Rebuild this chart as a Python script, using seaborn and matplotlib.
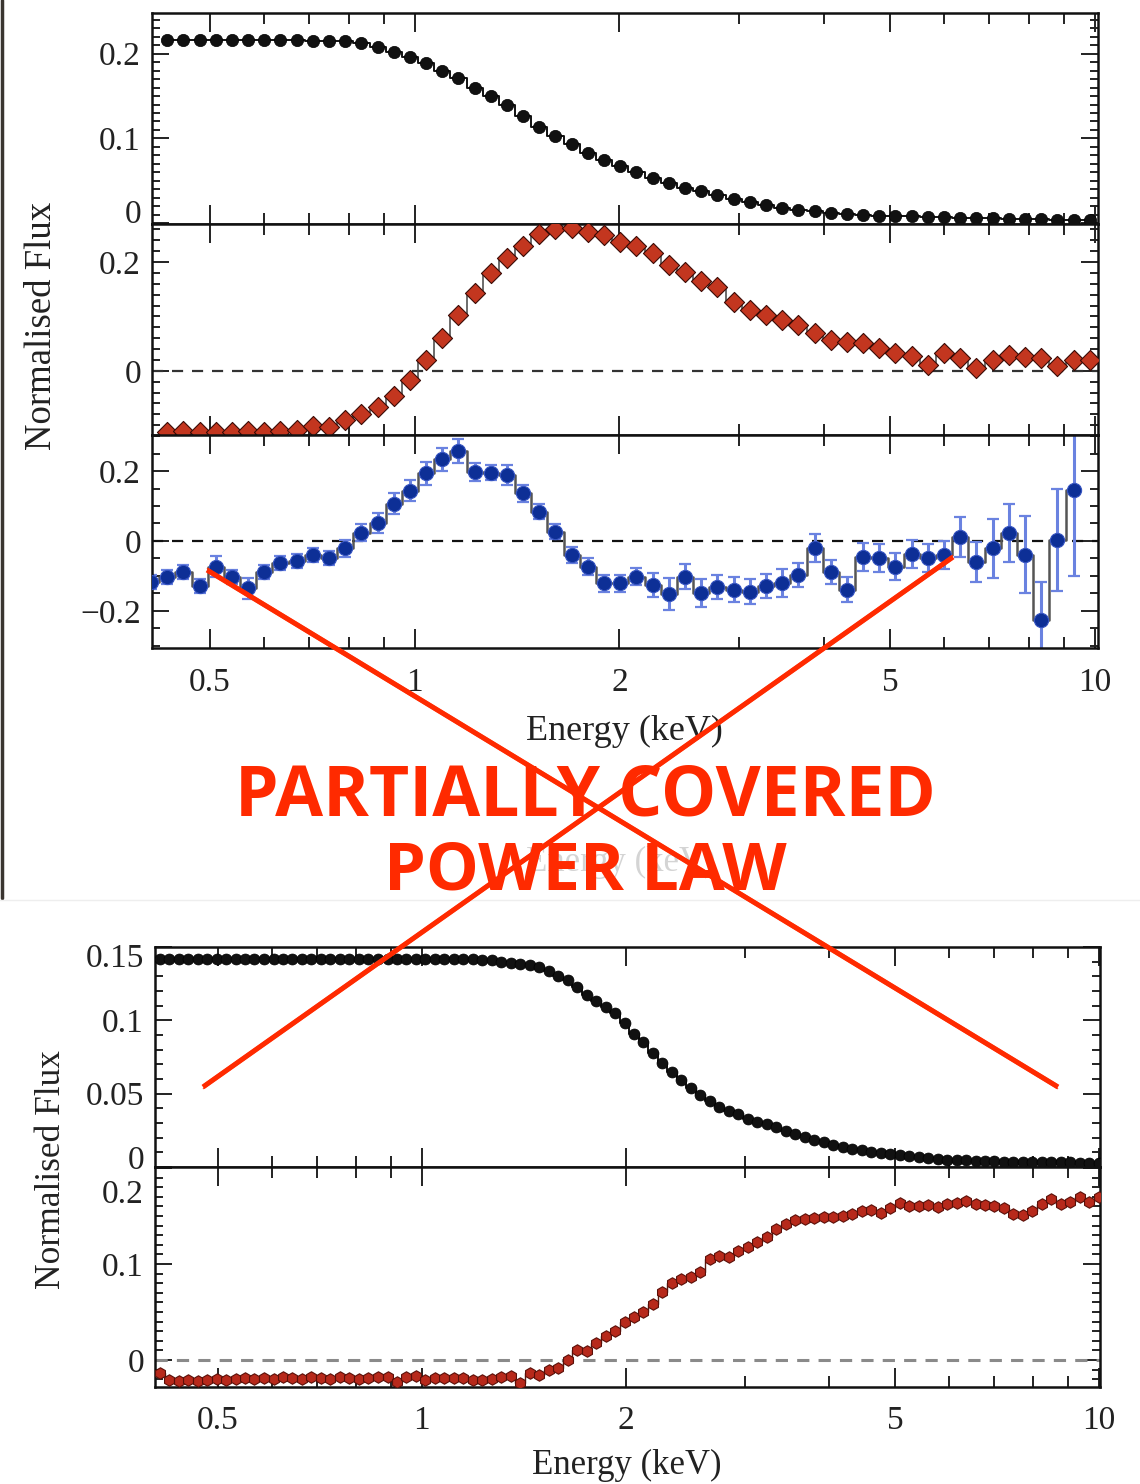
import matplotlib
matplotlib.use("Agg")
import matplotlib.pyplot as plt
import seaborn as sns
import pandas as pd
from matplotlib.ticker import FixedLocator, FixedFormatter, NullFormatter, MultipleLocator
from matplotlib.lines import Line2D

# ---------------- data ----------------
energy_top = [0.433, 0.457, 0.483, 0.510, 0.538, 0.569, 0.601, 0.635, 0.671, 0.708,
              0.748, 0.790, 0.835, 0.882, 0.932, 0.984, 1.039, 1.098, 1.160, 1.225,
              1.294, 1.367, 1.444, 1.525, 1.611, 1.702, 1.798, 1.899, 2.006, 2.119,
              2.239, 2.365, 2.498, 2.639, 2.788, 2.944, 3.110, 3.286, 3.471, 3.666,
              3.873, 4.091, 4.321, 4.565, 4.822, 5.093, 5.380, 5.683, 6.003, 6.342,
              6.699, 7.076, 7.475, 7.896, 8.341, 8.811, 9.307, 9.831]

flux_top_total = [0.216, 0.216, 0.216, 0.216, 0.216, 0.216, 0.216, 0.216, 0.216, 0.215,
                  0.215, 0.215, 0.213, 0.208, 0.202, 0.196, 0.189, 0.180, 0.171, 0.160,
                  0.150, 0.139, 0.127, 0.114, 0.103, 0.093, 0.083, 0.075, 0.067, 0.060,
                  0.053, 0.047, 0.042, 0.038, 0.033, 0.029, 0.025, 0.021, 0.018, 0.016,
                  0.014, 0.012, 0.011, 0.010, 0.009, 0.008, 0.008, 0.007, 0.007, 0.006,
                  0.006, 0.006, 0.005, 0.005, 0.005, 0.004, 0.004, 0.004]

flux_top_comp = [-0.112, -0.110, -0.112, -0.112, -0.113, -0.110, -0.112, -0.110, -0.108, -0.102,
                 -0.104, -0.091, -0.080, -0.067, -0.046, -0.017, 0.020, 0.060, 0.103, 0.143,
                 0.180, 0.208, 0.230, 0.252, 0.261, 0.263, 0.255, 0.250, 0.237, 0.230,
                 0.217, 0.195, 0.182, 0.165, 0.154, 0.127, 0.112, 0.103, 0.093, 0.084,
                 0.069, 0.057, 0.053, 0.051, 0.042, 0.032, 0.027, 0.010, 0.032, 0.023,
                 0.005, 0.020, 0.030, 0.025, 0.023, 0.009, 0.020, 0.020]

energy_resid = [0.410] + energy_top[:57]
flux_resid = [-0.116, -0.102, -0.088, -0.129, -0.073, -0.102, -0.135, -0.088, -0.064, -0.056,
              -0.040, -0.050, -0.021, 0.024, 0.052, 0.107, 0.143, 0.193, 0.233, 0.258,
              0.197, 0.195, 0.189, 0.136, 0.084, 0.027, -0.040, -0.073, -0.121, -0.121,
              -0.102, -0.126, -0.152, -0.102, -0.148, -0.131, -0.139, -0.145, -0.129, -0.121,
              -0.097, -0.021, -0.088, -0.139, -0.045, -0.050, -0.073, -0.037, -0.050, -0.040,
              0.012, -0.059, -0.021, 0.022, -0.040, -0.226, 0.003, 0.146]
err_resid = [0.020, 0.020, 0.020, 0.020, 0.030, 0.020, 0.030, 0.020, 0.020, 0.020,
             0.020, 0.020, 0.025, 0.025, 0.028, 0.030, 0.030, 0.032, 0.034, 0.034,
             0.025, 0.022, 0.028, 0.025, 0.022, 0.022, 0.022, 0.025, 0.025, 0.025,
             0.025, 0.035, 0.045, 0.035, 0.040, 0.035, 0.035, 0.035, 0.035, 0.040,
             0.035, 0.040, 0.035, 0.035, 0.040, 0.040, 0.040, 0.040, 0.040, 0.040,
             0.057, 0.057, 0.084, 0.083, 0.110, 0.110, 0.145, 0.246]

energy_bot = [0.410, 0.424, 0.438, 0.452, 0.467, 0.482, 0.498, 0.514, 0.531, 0.548,
              0.566, 0.585, 0.604, 0.624, 0.644, 0.666, 0.687, 0.710, 0.733, 0.757,
              0.782, 0.808, 0.834, 0.861, 0.890, 0.919, 0.949, 0.980, 1.012, 1.045,
              1.080, 1.115, 1.151, 1.189, 1.228, 1.268, 1.310, 1.353, 1.397, 1.443,
              1.490, 1.539, 1.590, 1.642, 1.696, 1.751, 1.809, 1.868, 1.929, 1.993,
              2.058, 2.125, 2.195, 2.267, 2.341, 2.418, 2.497, 2.579, 2.664, 2.751,
              2.842, 2.935, 3.031, 3.130, 3.233, 3.339, 3.448, 3.561, 3.678, 3.799,
              3.925, 4.054, 4.187, 4.324, 4.466, 4.612, 4.763, 4.919, 5.080, 5.247,
              5.418, 5.596, 5.779, 5.968, 6.164, 6.366, 6.575, 6.790, 7.013, 7.243,
              7.480, 7.725, 7.979, 8.240, 8.510, 8.789, 9.078, 9.375, 9.683, 10.000]

flux_bot_total = [0.142, 0.142, 0.142, 0.142, 0.142, 0.142, 0.142, 0.142, 0.142, 0.142,
                  0.142, 0.142, 0.142, 0.142, 0.142, 0.142, 0.142, 0.142, 0.142, 0.142,
                  0.142, 0.142, 0.142, 0.142, 0.142, 0.142, 0.142, 0.142, 0.142, 0.142,
                  0.142, 0.142, 0.142, 0.1418, 0.1414, 0.1408, 0.1400, 0.1392, 0.1384, 0.1375,
                  0.1365, 0.1335, 0.1305, 0.1275, 0.1225, 0.1175, 0.1130, 0.1090, 0.1050, 0.0985,
                  0.091, 0.085, 0.078, 0.071, 0.065, 0.059, 0.054, 0.049, 0.045, 0.041,
                  0.038, 0.036, 0.033, 0.031, 0.029, 0.027, 0.0245, 0.0225, 0.0205, 0.0185,
                  0.0168, 0.0150, 0.0138, 0.0125, 0.0115, 0.0105, 0.0095, 0.0087, 0.0079, 0.0072,
                  0.0066, 0.0061, 0.0056, 0.0051, 0.0048, 0.0045, 0.0042, 0.0040, 0.0038, 0.0036,
                  0.0035, 0.0034, 0.0033, 0.0032, 0.0032, 0.0031, 0.0031, 0.0030, 0.0030, 0.0030]

flux_bot_comp = [-0.013, -0.021, -0.022, -0.021, -0.022, -0.021, -0.020, -0.021, -0.020, -0.019,
                 -0.020, -0.019, -0.020, -0.018, -0.019, -0.020, -0.018, -0.019, -0.020, -0.018,
                 -0.019, -0.020, -0.019, -0.018, -0.018, -0.023, -0.018, -0.017, -0.021, -0.019,
                 -0.019, -0.019, -0.019, -0.021, -0.021, -0.020, -0.018, -0.017, -0.024, -0.013,
                 -0.016, -0.010, -0.008, 0.000, 0.010, 0.009, 0.018, 0.025, 0.030, 0.040,
                 0.045, 0.050, 0.058, 0.071, 0.080, 0.084, 0.086, 0.092, 0.105, 0.108,
                 0.107, 0.114, 0.118, 0.123, 0.128, 0.136, 0.142, 0.146, 0.147, 0.148,
                 0.149, 0.149, 0.150, 0.152, 0.155, 0.156, 0.153, 0.158, 0.164, 0.160,
                 0.160, 0.161, 0.159, 0.162, 0.164, 0.166, 0.163, 0.161, 0.160, 0.158,
                 0.152, 0.151, 0.155, 0.162, 0.168, 0.162, 0.165, 0.170, 0.165, 0.170]

x_tick_values = [0.5, 1, 2, 5, 10]
x_tick_labels = ["0.5", "1", "2", "5", "10"]
x_minor_values = [0.6, 0.7, 0.8, 0.9, 3, 4, 6, 7, 8, 9]

overlay_lines = ["PARTIALLY COVERED", "POWER LAW"]

# ---------------- style ----------------
sns.set_style("ticks")
plt.rcParams["font.family"] = ["Liberation Serif", "DejaVu Serif"]
plt.rcParams["axes.unicode_minus"] = True

W, H = 1140, 1484
fig = plt.figure(figsize=(W / 100, H / 100), dpi=100)
fig.patch.set_facecolor("white")


def rect(l, t, r, b):
    return [l / W, 1 - b / H, (r - l) / W, (b - t) / H]


TFS = 24
RED_TXT = "#ff2a00"


def style(ax, xlim, ylim, ymajor, ylabels, yminor, xlabels, xpad):
    ax.set_xscale("log")
    ax.set_xlim(*xlim)
    ax.set_ylim(*ylim)
    ax.xaxis.set_major_locator(FixedLocator(x_tick_values))
    ax.xaxis.set_minor_locator(FixedLocator(x_minor_values))
    if xlabels:
        ax.xaxis.set_major_formatter(FixedFormatter(x_tick_labels))
    else:
        ax.xaxis.set_major_formatter(NullFormatter())
    ax.xaxis.set_minor_formatter(NullFormatter())
    ax.yaxis.set_major_locator(FixedLocator(ymajor))
    ax.yaxis.set_major_formatter(FixedFormatter(ylabels))
    ax.yaxis.set_minor_locator(MultipleLocator(yminor))
    ax.tick_params(which="both", direction="in", top=True, right=True,
                   width=1.4, color="#222222", labelsize=TFS, labelcolor="#222222")
    ax.tick_params(axis="x", which="major", length=14, pad=xpad)
    ax.tick_params(axis="x", which="minor", length=8)
    ax.tick_params(axis="y", which="major", length=12, pad=8)
    ax.tick_params(axis="y", which="minor", length=6)
    for s in ax.spines.values():
        s.set_linewidth(1.8)
        s.set_color("#111111")
    ax.set_xlabel("")
    ax.set_ylabel("")


def extra_label(ax, text, yval, dy_pt):
    ax.annotate(text, xy=(0, yval), xycoords=("axes fraction", "data"),
                xytext=(-8, dy_pt), textcoords="offset points",
                ha="right", va="center_baseline", fontsize=TFS, color="#222222",
                annotation_clip=False)


ax1 = fig.add_axes(rect(152, 13, 1098, 224))
ax2 = fig.add_axes(rect(152, 224, 1098, 435))
ax3 = fig.add_axes(rect(152, 435, 1098, 648))
ax4 = fig.add_axes(rect(155, 947, 1100, 1167))
ax5 = fig.add_axes(rect(155, 1167, 1100, 1387))

top_xlim = (0.411, 10.11)
bot_xlim = (0.4036, 10.04)

for ax in (ax1, ax2, ax3, ax4, ax5):
    ax.set_xscale("log")

df_top = pd.DataFrame({"E": energy_top, "tot": flux_top_total, "comp": flux_top_comp})
df_res = pd.DataFrame({"E": energy_resid, "r": flux_resid, "e": err_resid})
df_bot = pd.DataFrame({"E": energy_bot, "tot": flux_bot_total, "comp": flux_bot_comp})

# panel 1: black model
sns.lineplot(data=df_top, x="E", y="tot", ax=ax1, color="#111111", lw=1.4,
             drawstyle="steps-mid", zorder=2)
sns.scatterplot(data=df_top, x="E", y="tot", ax=ax1, color="#111111", s=78,
                marker="o", edgecolor="#000000", linewidth=0.5, zorder=3)

# panel 2: red component
ax2.axhline(0, color="#333333", lw=1.6, ls=(0, (5, 4)), zorder=1)
sns.lineplot(data=df_top, x="E", y="comp", ax=ax2, color="#444444", lw=1.1,
             drawstyle="steps-mid", zorder=2)
sns.scatterplot(data=df_top, x="E", y="comp", ax=ax2, color="#c3361f", s=105,
                marker="D", edgecolor="#3a0a05", linewidth=0.8, zorder=3)

# panel 3: blue residuals with errors
ax3.axhline(0, color="#111111", lw=1.6, ls=(0, (5, 4)), zorder=1)
ax3.errorbar(df_res["E"], df_res["r"], yerr=df_res["e"], fmt="none",
             ecolor="#6a82e0", elinewidth=2.2, capsize=4, capthick=1.6, zorder=2)
sns.lineplot(data=df_res, x="E", y="r", ax=ax3, color="#555555", lw=1.8,
             drawstyle="steps-mid", zorder=2.5)
sns.scatterplot(data=df_res, x="E", y="r", ax=ax3, color="#0d2f96", s=105,
                marker="o", edgecolor="#3553c0", linewidth=0.8, zorder=3)

# panel 4: black model (bottom figure)
sns.lineplot(data=df_bot, x="E", y="tot", ax=ax4, color="#111111", lw=1.4,
             drawstyle="steps-mid", zorder=2)
sns.scatterplot(data=df_bot, x="E", y="tot", ax=ax4, color="#111111", s=62,
                marker="o", edgecolor="#000000", linewidth=0.5, zorder=3)

# panel 5: red component (bottom figure)
ax5.axhline(0, color="#8a8a8a", lw=2.2, ls=(0, (4, 3)), zorder=1)
sns.lineplot(data=df_bot, x="E", y="comp", ax=ax5, color="#5a1a10", lw=1.0,
             drawstyle="steps-mid", zorder=2)
sns.scatterplot(data=df_bot, x="E", y="comp", ax=ax5, color="#b7291b", s=68,
                marker="h", edgecolor="#5a0f08", linewidth=0.8, zorder=3)

style(ax1, top_xlim, (-0.001, 0.248), [0, 0.1, 0.2], ["", "0.1", "0.2"], 0.01, False, 14)
style(ax2, top_xlim, (-0.118, 0.270), [0, 0.2], ["0", "0.2"], 0.02, False, 14)
style(ax3, top_xlim, (-0.306, 0.303), [-0.2, 0, 0.2], ["\u22120.2", "0", "0.2"], 0.05, True, 14)
style(ax4, bot_xlim, (0.0, 0.150), [0, 0.05, 0.1, 0.15], ["", "0.05", "0.1", ""], 0.01, False, 13)
style(ax5, bot_xlim, (-0.028, 0.201), [0, 0.1, 0.2], ["0", "0.1", ""], 0.01, True, 13)

extra_label(ax1, "0", 0.0, 8.6)
extra_label(ax4, "0", 0.0, 7.2)
extra_label(ax4, "0.15", 0.15, -5.8)
extra_label(ax5, "0.2", 0.2, -16.5)

# axis titles (figure level)
fig.text(42 / W, 1 - 326 / H, "Normalised Flux", rotation=90, ha="center", va="center",
         fontsize=26.5, color="#222222")
fig.text(624 / W, 1 - 731 / H, "Energy (keV)", ha="center", va="center",
         fontsize=26, color="#222222")
fig.text(52 / W, 1 - 1170 / H, "Normalised Flux", rotation=90, ha="center", va="center",
         fontsize=25.5, color="#222222")
fig.text(627 / W, 1 - 1465 / H, "Energy (keV)", ha="center", va="center",
         fontsize=25, color="#222222")

# faint remnant of the hidden bottom-figure axis title
fig.text(621 / W, 1 - 862 / H, "Energy (keV)", ha="center", va="center",
         fontsize=25, color="#d4d4d4", zorder=1)

# edges of the pasted screenshot
fig.add_artist(Line2D([1.5 / W, 1.5 / W], [1.0, 1 - 898 / H], transform=fig.transFigure,
                      color="#3a3530", lw=2.5, zorder=1))
fig.add_artist(Line2D([0, 1], [1 - 900 / H, 1 - 900 / H], transform=fig.transFigure,
                      color="#eeeeee", lw=1.0, zorder=1))


# red cross (hand-drawn look)
def stroke(p0, p1):
    x0, y0 = p0
    x1, y1 = p1
    for off, lw, a in [(0, 3.6, 1.0), (1.8, 1.1, 0.8), (-1.8, 1.1, 0.8)]:
        fig.add_artist(Line2D([x0 / W, x1 / W], [1 - (y0 + off) / H, 1 - (y1 + off) / H],
                              transform=fig.transFigure, color=RED_TXT, lw=lw,
                              alpha=a, solid_capstyle="butt", zorder=6))


stroke((207, 570), (1058, 1087))
stroke((203, 1087), (953, 557))

fig.text(585 / W, 1 - 815 / H, overlay_lines[0], ha="center", va="baseline",
         fontsize=50, fontweight="bold", family=["Open Sans", "DejaVu Sans"],
         color=RED_TXT, zorder=5)
fig.text(585 / W, 1 - 890 / H, overlay_lines[1], ha="center", va="baseline",
         fontsize=48, fontweight="bold", family=["Open Sans", "DejaVu Sans"],
         color=RED_TXT, zorder=5)

fig.savefig("out.png", dpi=100, facecolor="white")
